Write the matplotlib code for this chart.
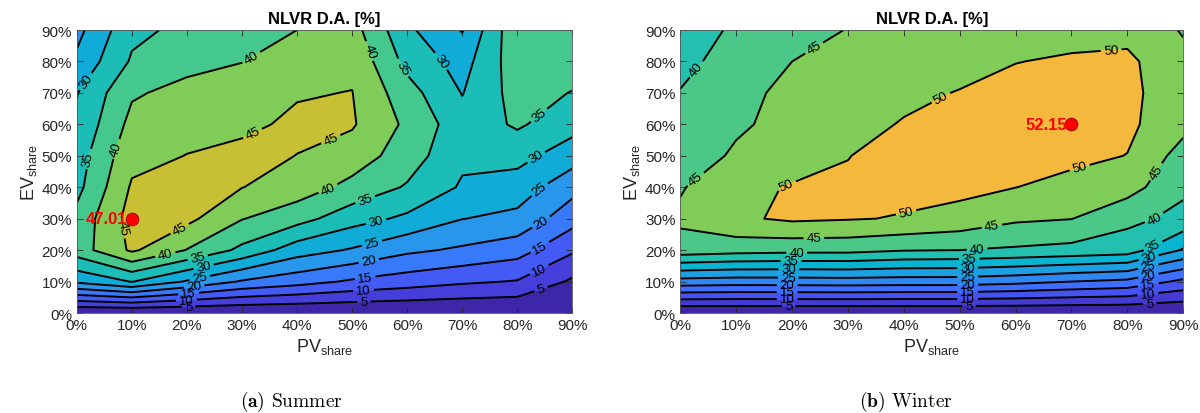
import numpy as np
import matplotlib
matplotlib.use('Agg')
import matplotlib.pyplot as plt
from matplotlib.colors import LinearSegmentedColormap

plt.rcParams['font.family'] = ['Liberation Sans', 'DejaVu Sans']
plt.rcParams['mathtext.fontset'] = 'custom'
plt.rcParams['mathtext.rm'] = 'Liberation Sans'
plt.rcParams['mathtext.it'] = 'Liberation Sans:italic'
plt.rcParams['mathtext.bf'] = 'Liberation Sans:bold'

# grid of the scenarios (percent)
pv_share = np.arange(0, 100, 10)
ev_share = np.arange(0, 100, 10)

# NLVR day-ahead [%], rows = EV share 0..90, columns = PV share 0..90
nlvr_summer = np.array([
    [0, 0, 0, 0, 0, 0, 0, 0, 0, 0],
    [26.0, 30.2, 24.5, 19.5, 17.0, 14.3, 12.5, 10.8, 9.7, 4.2],
    [37.5, 45.8, 39.8, 33.8, 27.3, 24.5, 21.0, 19.2, 17.1, 10.7],
    [36.5, 47.01, 46.3, 40.2, 36.9, 32.0, 29.0, 25.1, 23.7, 16.9],
    [33.5, 45.6, 46.4, 45.1, 42.6, 38.5, 34.5, 29.4, 27.6, 21.7],
    [32.6, 43.5, 45.1, 46.0, 44.95, 42.7, 37.5, 31.0, 31.7, 27.2],
    [30.8, 41.5, 43.5, 44.2, 45.7, 45.5, 39.0, 32.0, 35.7, 31.9],
    [29.8, 39.4, 41.5, 42.3, 44.7, 45.1, 37.0, 29.8, 37.0, 34.8],
    [26.0, 35.6, 38.5, 39.9, 42.3, 44.0, 33.5, 28.0, 38.0, 37.5],
    [23.5, 33.8, 36.2, 38.3, 40.0, 42.0, 31.0, 24.7, 39.0, 38.5],
])

nlvr_winter = np.array([
    [0, 0, 0, 0, 0, 0, 0, 0, 0, 0],
    [23.0, 22.5, 22.6, 22.8, 22.5, 22.5, 21.5, 20.0, 18.8, 13.8],
    [43.0, 42.0, 41.5, 41.5, 40.3, 40.0, 39.3, 38.5, 37.5, 29.5],
    [45.9, 49.2, 50.8, 50.3, 49.7, 48.3, 45.8, 45.1, 41.2, 38.7],
    [44.6, 48.5, 50.4, 50.6, 51.3, 51.3, 50.05, 48.5, 47.0, 40.9],
    [42.3, 45.7, 47.5, 49.9, 51.5, 51.8, 51.5, 51.2, 49.9, 43.0],
    [41.5, 44.3, 46.5, 48.5, 50.3, 51.6, 52.0, 52.15, 51.0, 46.5],
    [40.3, 43.5, 46.3, 47.5, 49.0, 50.2, 51.3, 51.5, 51.0, 47.5],
    [38.0, 43.0, 45.0, 46.3, 48.0, 48.5, 49.9, 50.5, 51.0, 46.3],
    [35.0, 41.5, 43.8, 45.1, 46.5, 47.0, 47.5, 48.6, 48.5, 44.6],
])

tick_labels = [f'{v}%' for v in pv_share]

# parula-like colormap
parula = LinearSegmentedColormap.from_list('parula', [
    '#3e26a8', '#4847eb', '#3e6fff', '#2796eb', '#08b4d0',
    '#31c69f', '#80cc59', '#dcbd29', '#fccf30', '#f9fb14'])

# where the contour labels sit (data coords)
summer_label_pos = [
    (2.1, 73), (2.1, 49), (7, 52.3), (31.8, 81), (31.8, 57.6), (46.2, 55),
    (52.8, 83.1), (60.1, 78.9), (66.1, 80), (83.9, 63), (83.2, 50.2),
    (83.9, 39.6), (84.3, 29), (83.9, 21.5), (83.9, 14.1), (84.3, 7.7),
    (45.5, 40.1), (52.4, 35.9), (54.5, 27.9), (53.8, 21), (53.1, 15.7),
    (52.4, 10.9), (52.1, 6.7), (52.1, 3.5), (18.5, 27.4), (8.5, 27),
    (16.1, 18.4), (22, 17.3), (23.1, 14.1), (22.4, 10.4), (21.3, 8.3),
    (20.3, 6.2), (19.9, 4), (20.3, 1.9)]
winter_label_pos = [
    (2.3, 78.3), (24.2, 83.5), (3, 42), (46.2, 69.9), (77.1, 83.7),
    (18.8, 41.5), (40.4, 32), (71.3, 47.3), (23.9, 22.1), (55.8, 27.3),
    (85.4, 44.6), (84.7, 30.5), (84, 23.6), (83.7, 18.4), (83.7, 15.2),
    (83.7, 12.6), (83.7, 9.5), (83.7, 6.3), (84, 3.2), (20.8, 18.4),
    (19.8, 15.4), (19.4, 12.9), (19.3, 10.5), (19.1, 8.1), (19.1, 5.8),
    (19.1, 3.9), (19.4, 1.6), (53.1, 20.5), (51.7, 17.3), (51.4, 14.7),
    (51.4, 12.3), (51.4, 9.5), (51.4, 6.8), (51.4, 4.2), (51.7, 2.1)]


def draw_panel(ax, z, cmax, top_color, label_pos, caption, cap_x):
    zmax = z.max()
    levels = list(range(0, int(zmax // 5) * 5 + 5, 5))
    colors = [parula(l / cmax) for l in levels]
    if top_color is not None:
        colors[-1] = top_color
    ax.contourf(pv_share, ev_share, z, levels=levels + [zmax + 0.01],
                colors=colors)
    cs = ax.contour(pv_share, ev_share, z, levels=levels[1:],
                    colors='k', linewidths=1.4)
    ax.clabel(cs, fmt='%g', fontsize=9.5, inline=True, inline_spacing=3,
              manual=label_pos)

    # best scenario
    iy, ix = np.unravel_index(np.argmax(z), z.shape)
    ax.plot(pv_share[ix], ev_share[iy], 'o', ms=9, mfc='red', mec='#b00000',
            mew=0.8, zorder=5)
    ax.text(pv_share[ix] - 0.8, ev_share[iy], f'{zmax:.2f}', color='red',
            fontweight='bold', fontsize=12, ha='right', va='center', zorder=5)

    ax.set_xlim(0, 90)
    ax.set_ylim(0, 90)
    ax.set_xticks(pv_share)
    ax.set_yticks(ev_share)
    ax.set_xticklabels(tick_labels)
    ax.set_yticklabels(tick_labels)
    ax.tick_params(direction='in', top=True, right=True, length=4,
                   labelsize=11, colors='#262626', width=0.6)
    for s in ax.spines.values():
        s.set_color('#555555')
        s.set_linewidth(0.6)
    ax.set_title('NLVR D.A. [%]', fontweight='bold', fontsize=12, pad=5)
    ax.set_xlabel(r'PV$_{\mathrm{share}}$', fontsize=13, color='#262626',
                  labelpad=3)
    ax.set_ylabel(r'EV$_{\mathrm{share}}$', fontsize=13, color='#262626',
                  labelpad=2)
    fig.text(cap_x, 0.03, caption, family='cmr10', math_fontfamily='cm',
             fontsize=14, ha='center', va='center')


fig = plt.figure(figsize=(12, 4.14), dpi=100)
ax1 = fig.add_axes([0.064, 0.2415, 0.413, 0.6836])
ax2 = fig.add_axes([0.567, 0.2415, 0.419, 0.6836])

draw_panel(ax1, nlvr_summer, 60.0, None, summer_label_pos,
           r'($\mathbf{a}$) Summer', 0.243)
draw_panel(ax2, nlvr_winter, 67.5, '#f4b93c', winter_label_pos,
           r'($\mathbf{b}$) Winter', 0.755)

fig.savefig('out.png', dpi=100)
